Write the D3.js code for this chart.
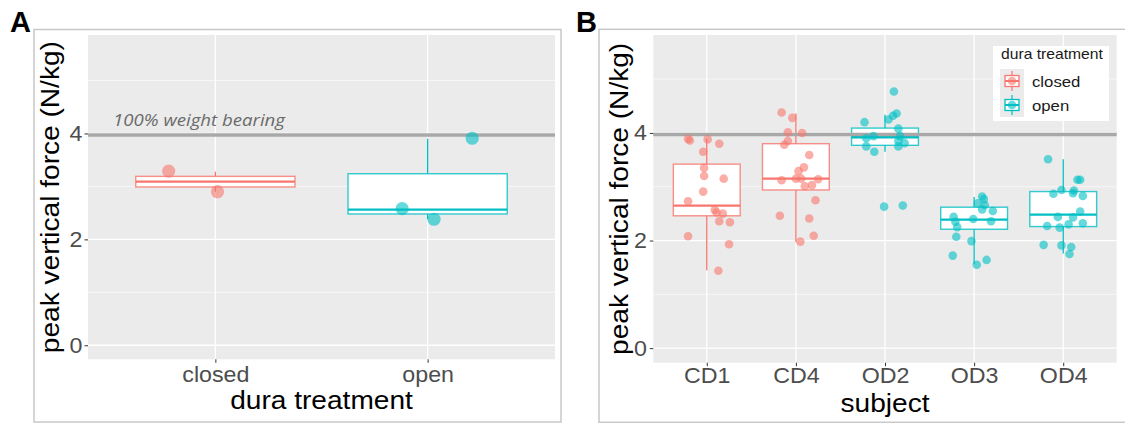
<!DOCTYPE html>
<html>
<head>
<meta charset="utf-8">
<script src="https://cdn.jsdelivr.net/npm/d3@7"></script>
<style>
  body { margin: 0; background: #fff; }
  text { font-family: "Liberation Sans", Arial, sans-serif; }
</style>
</head>
<body>
<script>
// ---- data ----
var treatments = ["closed", "open"];
var subjects = ["CD1", "CD4", "OD2", "OD3", "OD4"];
var subjectTreatment = ["closed", "closed", "open", "open", "open"];
var yTicks = [0, 2, 4];
var yMinorTicks = [1, 3, 5];
var weightBearing = 3.97;

// panel A: one value per subject, grouped by dura treatment
var aValues = [[3.29, 2.90], [3.91, 2.58, 2.38]];
var aJitter = [[-0.22, 0.01], [0.21, -0.12, 0.03]];
var aLow = [2.90, 2.38];
var aQ1 = [2.99, 2.48];
var aMedian = [3.09, 2.56];
var aQ3 = [3.19, 3.24];
var aHigh = [3.28, 3.90];

// panel B: every trial, grouped by subject
var bValues = [
  [3.89, 3.86, 3.88, 3.80, 3.65, 3.35, 3.20, 3.15, 2.91, 2.73, 2.57, 2.52, 2.50, 2.36, 2.34, 2.08, 1.93, 1.44],
  [4.38, 4.28, 4.01, 4.00, 3.85, 3.78, 3.59, 3.36, 3.29, 3.15, 3.12, 3.15, 3.14, 3.03, 3.01, 2.75, 2.46, 2.41, 2.09, 1.98],
  [4.77, 4.20, 4.25, 4.32, 4.36, 4.08, 3.94, 3.90, 3.94, 3.85, 3.81, 3.75, 3.75, 3.65, 2.63, 2.65],
  [2.82, 2.77, 2.69, 2.66, 2.58, 2.55, 2.44, 2.40, 2.35, 2.36, 2.25, 2.07, 1.99, 1.72, 1.64, 1.55],
  [3.51, 3.13, 3.13, 2.94, 2.93, 2.87, 2.88, 2.83, 2.54, 2.44, 2.43, 2.32, 2.27, 2.24, 2.30, 1.92, 1.91, 1.88, 1.75]
];
var bJitter = [
  [-0.21, -0.19, 0.01, 0.14, -0.04, -0.03, -0.03, 0.19, -0.04, -0.21, 0.09, 0.11, 0.18, 0.14, 0.26, -0.21, 0.25, 0.13],
  [-0.16, -0.04, -0.09, 0.07, -0.09, -0.13, 0.15, 0.09, 0.03, 0.00, -0.16, 0.06, 0.25, 0.18, 0.10, 0.22, -0.18, 0.15, 0.20, 0.05],
  [0.10, -0.23, 0.04, 0.09, 0.13, 0.15, -0.13, -0.21, 0.17, 0.15, 0.22, -0.21, 0.15, -0.12, -0.01, 0.20],
  [0.09, 0.11, 0.04, 0.12, 0.09, 0.21, -0.23, -0.01, -0.21, 0.19, -0.19, -0.20, -0.03, -0.24, 0.14, 0.03],
  [-0.17, 0.16, 0.19, -0.02, 0.12, -0.11, 0.11, 0.22, 0.19, -0.06, 0.11, 0.22, -0.18, -0.04, 0.06, -0.22, -0.02, 0.09, 0.07]
];
var bLow = [1.45, 1.98, 3.65, 1.56, 1.76];
var bQ1 = [2.46, 2.94, 3.77, 2.21, 2.26];
var bMedian = [2.65, 3.15, 3.92, 2.39, 2.48];
var bQ3 = [3.42, 3.80, 4.09, 2.62, 2.91];
var bHigh = [3.90, 4.36, 4.34, 2.81, 3.51];

var color = d3.scaleOrdinal().domain(treatments).range(["#F8766D", "#00BFC4"]);
var WIDEN = 1.08; // the figure's font runs a little wider than Liberation Sans

var svg = d3.select("body")
  .append("svg")
  .attr("width", 1125)
  .attr("height", 423);

function drawPanel(p) {
  // outer frame and grey panel
  svg.append("rect")
    .attr("x", p.frame[0]).attr("y", p.frame[1])
    .attr("width", p.frame[2]).attr("height", p.frame[3])
    .attr("fill", "#fff").attr("stroke", "#c8c8c8").attr("stroke-width", 1.5);

  var x = d3.scalePoint().domain(p.cats).range([p.left, p.right]).padding(0.6);
  var y = d3.scaleLinear().domain(p.yDomain).range([p.bottom, p.top]);
  var step = x.step();

  svg.append("rect")
    .attr("x", p.left).attr("y", p.top)
    .attr("width", p.right - p.left).attr("height", p.bottom - p.top)
    .attr("fill", "#EBEBEB");

  // grid
  svg.append("g").selectAll("line").data(yMinorTicks).join("line")
    .attr("x1", p.left).attr("x2", p.right)
    .attr("y1", d => y(d)).attr("y2", d => y(d))
    .attr("stroke", "#fff").attr("stroke-width", 0.6);
  svg.append("g").selectAll("line").data(yTicks).join("line")
    .attr("x1", p.left).attr("x2", p.right)
    .attr("y1", d => y(d)).attr("y2", d => y(d))
    .attr("stroke", "#fff").attr("stroke-width", 1.3);
  svg.append("g").selectAll("line").data(p.cats).join("line")
    .attr("x1", d => x(d)).attr("x2", d => x(d))
    .attr("y1", p.top).attr("y2", p.bottom)
    .attr("stroke", "#fff").attr("stroke-width", 1.3);

  // boxplots
  var boxes = svg.append("g").selectAll("g").data(p.cats).join("g");
  boxes.append("line")
    .attr("x1", d => x(d)).attr("x2", d => x(d))
    .attr("y1", (d, i) => y(p.high[i])).attr("y2", (d, i) => y(p.low[i]))
    .attr("stroke", (d, i) => color(p.groupOf[i])).attr("stroke-width", 1.3);
  boxes.append("rect")
    .attr("x", d => x(d) - 0.375 * step).attr("width", 0.75 * step)
    .attr("y", (d, i) => y(p.q3[i]))
    .attr("height", (d, i) => y(p.q1[i]) - y(p.q3[i]))
    .attr("fill", "#fff")
    .attr("stroke", (d, i) => color(p.groupOf[i]))
    .attr("stroke-opacity", 0.8).attr("stroke-width", 1.4);
  boxes.append("line")
    .attr("x1", d => x(d) - 0.375 * step).attr("x2", d => x(d) + 0.375 * step)
    .attr("y1", (d, i) => y(p.median[i])).attr("y2", (d, i) => y(p.median[i]))
    .attr("stroke", (d, i) => color(p.groupOf[i])).attr("stroke-width", 2.3);

  // 100% weight bearing reference
  svg.append("line")
    .attr("x1", p.left).attr("x2", p.right)
    .attr("y1", y(weightBearing)).attr("y2", y(weightBearing))
    .attr("stroke", "#a8a8a8").attr("stroke-width", 3.5);

  // jittered points
  var pts = [];
  p.cats.forEach(function(c, i) {
    p.values[i].forEach(function(v, j) {
      pts.push({ cat: c, group: p.groupOf[i], value: v, jitter: p.jitter[i][j] });
    });
  });
  svg.append("g").selectAll("circle").data(pts).join("circle")
    .attr("cx", d => x(d.cat) + d.jitter * step)
    .attr("cy", d => y(d.value))
    .attr("r", p.radius)
    .attr("fill", d => color(d.group))
    .attr("fill-opacity", 0.6);

  // axes
  var yAxis = svg.append("g")
    .attr("transform", "translate(" + p.left + ",0)")
    .call(d3.axisLeft(y).tickValues(yTicks).tickFormat(d3.format("d")).tickSize(3.5).tickPadding(p.yPad));
  var xAxis = svg.append("g")
    .attr("transform", "translate(0," + p.bottom + ")")
    .call(d3.axisBottom(x).tickSize(3.5).tickPadding(p.xPad));
  [yAxis, xAxis].forEach(function(a) {
    a.select(".domain").remove();
    a.selectAll(".tick line").attr("stroke", "#333");
    a.selectAll(".tick text")
      .attr("fill", "#4D4D4D")
      .style("font-size", "21.5px")
      .attr("class", "wide");
  });

  // titles
  svg.append("text")
    .attr("class", "wide")
    .attr("x", (p.left + p.right) / 2).attr("y", p.xTitleY)
    .attr("text-anchor", "middle")
    .style("font-size", "26px")
    .text(p.xTitle);
  svg.append("text")
    .attr("class", "wide")
    .attr("transform", "translate(" + p.yTitleX + "," + (p.top + p.bottom) / 2 + ") rotate(-90)")
    .attr("text-anchor", "middle")
    .style("font-size", "26px")
    .text("peak vertical force (N/kg)");

  svg.append("text")
    .attr("x", p.letterX).attr("y", 32)
    .style("font-size", "29px").style("font-weight", "bold")
    .text(p.letter);

  return { x: x, y: y };
}

var A = drawPanel({
  letter: "A", letterX: 10,
  frame: [34, 29.5, 527, 392.5],
  left: 88, right: 555, top: 35, bottom: 359.3,
  yDomain: [-0.265, 5.86], yPad: 2, xPad: 3.5,
  cats: treatments, groupOf: treatments,
  values: aValues, jitter: aJitter,
  low: aLow, q1: aQ1, median: aMedian, q3: aQ3, high: aHigh,
  radius: 6.6,
  xTitle: "dura treatment", xTitleY: 409, yTitleX: 59
});

svg.append("text")
  .attr("x", 113).attr("y", 126)
  .attr("textLength", 172).attr("lengthAdjust", "spacingAndGlyphs")
  .style("font-family", "'Open Sans', sans-serif")
  .style("font-style", "italic")
  .style("font-size", "17px")
  .attr("fill", "#6a6a6a")
  .text("100% weight bearing");

var B = drawPanel({
  letter: "B", letterX: 576,
  frame: [599, 29.3, 540, 393],
  left: 653.3, right: 1116.7, top: 35, bottom: 362.7,
  yDomain: [-0.27, 5.82], yPad: 3, xPad: 1.5,
  cats: subjects, groupOf: subjectTreatment,
  values: bValues, jitter: bJitter,
  low: bLow, q1: bQ1, median: bMedian, q3: bQ3, high: bHigh,
  radius: 4.3,
  xTitle: "subject", xTitleY: 412, yTitleX: 628
});

// legend for panel B
var legend = svg.append("g").attr("transform", "translate(993,46)");
legend.append("rect").attr("width", 116).attr("height", 75).attr("fill", "#fff");
legend.append("text")
  .attr("class", "wide")
  .attr("x", 8).attr("y", 12.5)
  .style("font-size", "14.5px").attr("fill", "#1a1a1a")
  .text("dura treatment");
var keys = legend.selectAll("g.key").data(treatments).join("g")
  .attr("class", "key")
  .attr("transform", (d, i) => "translate(7," + (23 + i * 24) + ")");
keys.append("rect").attr("width", 24).attr("height", 24).attr("fill", "#EBEBEB");
keys.append("line")
  .attr("x1", 12).attr("x2", 12).attr("y1", 2).attr("y2", 22)
  .attr("stroke", d => color(d)).attr("stroke-width", 1.2);
keys.append("rect")
  .attr("x", 5).attr("y", 6.5).attr("width", 14).attr("height", 11)
  .attr("fill", "#fff").attr("stroke", d => color(d)).attr("stroke-width", 1.3);
keys.append("line")
  .attr("x1", 5).attr("x2", 19).attr("y1", 12).attr("y2", 12)
  .attr("stroke", d => color(d)).attr("stroke-width", 2);
keys.append("circle")
  .attr("cx", 12).attr("cy", 12).attr("r", 4.3)
  .attr("fill", d => color(d)).attr("fill-opacity", 0.6);
keys.append("text")
  .attr("class", "wide")
  .attr("x", 32).attr("y", 18)
  .style("font-size", "15.5px").attr("fill", "#1a1a1a")
  .text(d => d);

// stretch text horizontally to the figure's wider letterforms
svg.selectAll("text.wide").each(function() {
  var len = this.getComputedTextLength();
  d3.select(this).attr("textLength", len * WIDEN).attr("lengthAdjust", "spacingAndGlyphs");
});
</script>
</body>
</html>
